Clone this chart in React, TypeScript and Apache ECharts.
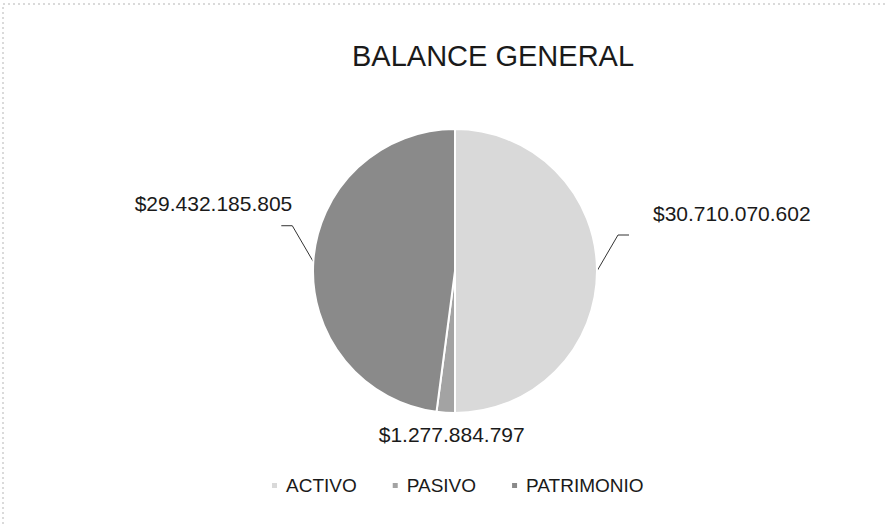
import React, { useEffect, useRef } from "react";
import * as echarts from "echarts";

const categories = ["ACTIVO", "PASIVO", "PATRIMONIO"];
const values = [30710070602, 1277884797, 29432185805];
const colors = ["#d9d9d9", "#a3a3a3", "#8a8a8a"];
const titleText = "BALANCE GENERAL";

function fmt(v: number): string {
  return "$" + Math.round(v).toString().replace(/\B(?=(\d{3})+(?!\d))/g, ".");
}

export default function App() {
  const ref = useRef<HTMLDivElement>(null);
  useEffect(() => {
    if (!ref.current) return;
    const chart = echarts.init(ref.current, undefined, { renderer: "svg" });
    chart.setOption({
      animation: false,
      backgroundColor: "#ffffff",
      title: {
        text: titleText,
        left: 347,
        top: 36,
        textStyle: {
          fontFamily: "Liberation Sans",
          fontSize: 29,
          fontWeight: "normal",
          color: "#1a1a1a",
        },
      },
      legend: {
        data: categories,
        bottom: 25,
        left: 265,
        icon: "rect",
        itemWidth: 7,
        itemHeight: 7,
        itemGap: 34,
        textStyle: {
          fontFamily: "Liberation Sans",
          fontSize: 19,
          color: "#1a1a1a",
          padding: [0, 0, 0, 3],
        },
      },
      graphic: [
        {
          type: "rect",
          shape: { x: 3, y: 4, width: 1000, height: 1000 },
          style: { fill: "none", stroke: "#b5b5b5", lineWidth: 1, lineDash: [2, 3] },
          silent: true,
        },
      ],
      series: [
        {
          type: "pie",
          center: [455, 271],
          radius: 142,
          startAngle: 90,
          clockwise: true,
          itemStyle: { borderColor: "#ffffff", borderWidth: 2 },
          label: {
            show: true,
            formatter: (p: any) => fmt(p.value),
            fontFamily: "Liberation Sans",
            fontSize: 21,
            color: "#1a1a1a",
          },
          labelLine: {
            show: true,
            length: 20,
            length2: 10,
            lineStyle: { color: "#333333", width: 1 },
          },
          labelLayout: (params: any) => {
            const pts = params.labelLinePoints;
            if (!pts || !pts[0]) return {};
            const a = pts[0];
            if (params.dataIndex === 1) {
              return {
                x: a[0] + 6,
                y: a[1] + 22,
                align: "center",
                verticalAlign: "middle",
                labelLinePoints: [a, a, a],
              };
            }
            const s = a[0] >= 455 ? 1 : -1;
            const b = [a[0] + s * 21, a[1] - 36];
            const c = [b[0] + s * 11, b[1]];
            return {
              x: s > 0 ? c[0] + 24 : c[0] + 11,
              y: c[1] - 22,
              align: s > 0 ? "left" : "right",
              verticalAlign: "middle",
              labelLinePoints: [a, b, c],
            };
          },
          data: categories.map((c, i) => ({
            name: c,
            value: values[i],
            itemStyle: { color: colors[i] },
            labelLine: { show: i !== 1 },
          })),
        },
      ],
    });
    return () => chart.dispose();
  }, []);
  return (
    <div
      ref={ref}
      style={{ position: "absolute", left: 0, top: 0, width: 888, height: 525 }}
    />
  );
}
